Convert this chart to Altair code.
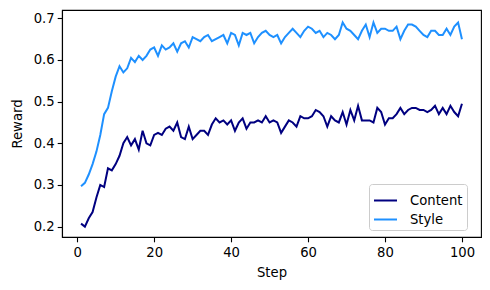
import altair as alt
import pandas as pd

steps = list(range(1, 101))
content = [0.207, 0.200, 0.220, 0.235, 0.270, 0.300, 0.295, 0.340, 0.335, 0.350,
           0.370, 0.400, 0.415, 0.395, 0.410, 0.385, 0.430, 0.400, 0.395, 0.420,
           0.425, 0.420, 0.435, 0.440, 0.430, 0.450, 0.415, 0.410, 0.440, 0.410,
           0.420, 0.430, 0.430, 0.420, 0.445, 0.460, 0.450, 0.455, 0.445, 0.455,
           0.430, 0.450, 0.460, 0.435, 0.450, 0.450, 0.455, 0.450, 0.465, 0.450,
           0.455, 0.450, 0.425, 0.440, 0.455, 0.450, 0.440, 0.465, 0.460, 0.460,
           0.465, 0.480, 0.475, 0.465, 0.440, 0.465, 0.455, 0.450, 0.475, 0.445,
           0.480, 0.455, 0.490, 0.455, 0.455, 0.455, 0.450, 0.485, 0.475, 0.445,
           0.460, 0.460, 0.470, 0.485, 0.470, 0.480, 0.485, 0.485, 0.480, 0.480,
           0.475, 0.480, 0.490, 0.470, 0.485, 0.470, 0.490, 0.475, 0.465, 0.495]
style = [0.297, 0.305, 0.325, 0.350, 0.380, 0.420, 0.470, 0.485, 0.525, 0.560,
         0.585, 0.570, 0.580, 0.605, 0.595, 0.610, 0.600, 0.610, 0.625, 0.630,
         0.610, 0.635, 0.625, 0.630, 0.640, 0.620, 0.640, 0.645, 0.630, 0.655,
         0.650, 0.645, 0.655, 0.660, 0.645, 0.650, 0.655, 0.660, 0.640, 0.665,
         0.660, 0.635, 0.665, 0.660, 0.665, 0.640, 0.655, 0.665, 0.670, 0.660,
         0.655, 0.660, 0.640, 0.655, 0.665, 0.675, 0.665, 0.655, 0.670, 0.680,
         0.675, 0.665, 0.670, 0.655, 0.665, 0.660, 0.650, 0.660, 0.690, 0.675,
         0.670, 0.660, 0.650, 0.670, 0.685, 0.655, 0.690, 0.665, 0.675, 0.675,
         0.670, 0.670, 0.680, 0.650, 0.670, 0.685, 0.685, 0.680, 0.670, 0.660,
         0.655, 0.670, 0.670, 0.660, 0.660, 0.675, 0.660, 0.680, 0.690, 0.650]
series_names = ["Content", "Style"]
series_colors = ["#000080", "#1e90ff"]

df = pd.concat([
    pd.DataFrame({"Step": steps, "Reward": content, "Series": "Content"}),
    pd.DataFrame({"Step": steps, "Reward": style, "Series": "Style"}),
])

FONT = "DejaVu Sans"
FS = 13.2

chart = alt.Chart(df).mark_line(strokeWidth=2, clip=True).encode(
    x=alt.X("Step:Q", scale=alt.Scale(domain=[-3.95, 104.95], nice=False, zero=False),
            axis=alt.Axis(values=[0, 20, 40, 60, 80, 100], title="Step", grid=False,
                          tickSize=4.8, labelPadding=5, titlePadding=7)),
    y=alt.Y("Reward:Q", scale=alt.Scale(domain=[0.175, 0.72], nice=False, zero=False),
            axis=alt.Axis(values=[0.2, 0.3, 0.4, 0.5, 0.6, 0.7], format=".1f", title="Reward",
                          grid=False, tickSize=4.8, labelPadding=3, titlePadding=9)),
    color=alt.Color("Series:N", scale=alt.Scale(domain=series_names, range=series_colors),
                    legend=alt.Legend(title=None, orient="none", legendX=307, legendY=174,
                                      symbolType="stroke", symbolSize=529, symbolStrokeWidth=2,
                                      labelFontSize=FS, labelFont=FONT, rowPadding=-2,
                                      padding=4, fillColor="white", strokeColor="#cccccc",
                                      cornerRadius=3, labelOffset=12)),
).properties(
    width=419, height=227,
    autosize=alt.AutoSizeParams(type="none"),
    padding={"left": 54, "top": 2, "right": 1, "bottom": 45},
).configure_view(
    stroke="black", strokeWidth=1.1
).configure_axis(
    domainColor="black", domainWidth=1.1, tickColor="black", tickWidth=1.1,
    labelColor="black", titleColor="black", labelFont=FONT, titleFont=FONT,
    labelFontSize=FS, titleFontSize=FS, titleFontWeight="normal"
)

chart.save("out.html", embed_options={"renderer": "svg", "actions": False})
